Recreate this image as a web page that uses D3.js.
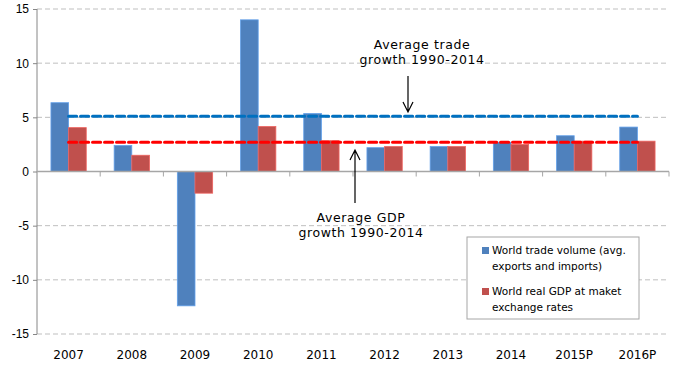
<!doctype html>
<meta charset=utf8>
<title>World trade and GDP growth</title>
<style>
  html, body { margin: 0; background: white; }
  svg { display: block; font-family: Tahoma, "DejaVu Sans", sans-serif; }
  .grid line { stroke: #bfbfbf; stroke-dasharray: 5,3; }
  .tick text { fill: #000; }
</style>
<svg width=674 height=370></svg>
<script src=https://d3js.org/d3.v7.min.js></script>
<script>
  var years = ['2007', '2008', '2009', '2010', '2011', '2012', '2013', '2014', '2015P', '2016P'];
  var tradeGrowth = [6.35, 2.4, -12.4, 14.0, 5.35, 2.2, 2.3, 2.7, 3.3, 4.1];
  var gdpGrowth = [4.05, 1.5, -2.0, 4.15, 2.85, 2.3, 2.3, 2.5, 2.8, 2.8];
  var avgTrade = 5.1;
  var avgGdp = 2.7;
  var yTicks = [-15, -10, -5, 0, 5, 10, 15];

  var svg = d3.select('svg');
  var plotLeft = 37, plotRight = 669, plotTop = 9, plotBottom = 334;

  var x = d3.scaleBand().domain(years).range([plotLeft, plotRight]);
  var xs = d3.scaleBand().domain(['trade', 'gdp']).range([0, x.bandwidth()]).paddingOuter(0.79);
  var y = d3.scaleLinear().domain([-15, 15]).range([plotBottom, plotTop]);

  // gridlines
  svg.append('g').attr('class', 'grid')
    .selectAll('line').data(yTicks.filter(function (d) { return d !== 0; }))
    .enter().append('line')
    .attr('x1', plotLeft).attr('x2', plotRight)
    .attr('y1', y).attr('y2', y);

  // y axis
  var yAxis = svg.append('g').attr('transform', 'translate(' + plotLeft + ',0)')
    .call(d3.axisLeft(y).tickValues(yTicks).tickFormat(String).tickSize(4).tickPadding(4));
  yAxis.select('.domain').attr('stroke', '#868686').attr('d', 'M0,' + plotTop + 'V' + plotBottom);
  yAxis.selectAll('.tick line').attr('stroke', '#868686');
  yAxis.selectAll('.tick text').style('font-size', '12px');

  // bars
  var groups = svg.append('g').selectAll('g').data(years).enter().append('g')
    .attr('transform', function (d) { return 'translate(' + x(d) + ',0)'; });

  function bars(key, values, color) {
    groups.append('rect')
      .attr('x', xs(key))
      .attr('width', xs.bandwidth())
      .attr('y', function (d, i) { return y(Math.max(0, values[i])); })
      .attr('height', function (d, i) { return Math.abs(y(values[i]) - y(0)); })
      .attr('fill', color)
      .attr('stroke', d3.color(color).brighter(0.6))
      .attr('stroke-width', 0.8);
  }
  bars('trade', tradeGrowth, '#4f81bd');
  bars('gdp', gdpGrowth, '#c0504d');

  // zero line and category ticks
  svg.append('line').attr('x1', plotLeft).attr('x2', plotRight)
    .attr('y1', y(0)).attr('y2', y(0)).attr('stroke', '#a6a6a6').attr('stroke-width', 1.3);
  svg.append('g').selectAll('line').data(years)
    .enter().append('line')
    .attr('x1', function (d) { return x(d) + x.step(); })
    .attr('x2', function (d) { return x(d) + x.step(); })
    .attr('y1', y(0)).attr('y2', y(0) + 5)
    .attr('stroke', '#a6a6a6');

  // x labels
  svg.append('g').selectAll('text').data(years).enter().append('text')
    .attr('x', function (d) { return x(d) + x.bandwidth() / 2; })
    .attr('y', 359)
    .attr('text-anchor', 'middle')
    .style('font-size', '12px')
    .text(function (d) { return d; });

  // average lines
  var x0 = x(years[0]) + x.bandwidth() / 2;
  var x1 = x(years[years.length - 1]) + x.bandwidth() / 2;
  [[avgTrade, '#0070c0'], [avgGdp, '#ff0000']].forEach(function (a) {
    svg.append('line')
      .attr('x1', x0).attr('x2', x1)
      .attr('y1', y(a[0])).attr('y2', y(a[0]))
      .attr('stroke', a[1]).attr('stroke-width', 3.2)
      .attr('stroke-dasharray', '8,4').attr('stroke-linecap', 'round');
  });

  // annotations
  function note(lines, cx, ty) {
    svg.append('text').attr('text-anchor', 'middle').style('font-size', '12.5px')
      .style('letter-spacing', '0.6px')
      .selectAll('tspan').data(lines).enter().append('tspan')
      .attr('x', cx).attr('y', function (d, i) { return ty + i * 15; })
      .text(function (d) { return d; });
  }
  function arrow(ax, y1, y2) {
    var dir = y2 > y1 ? -1 : 1;
    svg.append('path')
      .attr('d', 'M' + ax + ',' + y1 + 'V' + y2 + 'M' + (ax - 5) + ',' + (y2 + dir * 10) + 'L' + ax + ',' + y2 + 'L' + (ax + 5) + ',' + (y2 + dir * 10))
      .attr('fill', 'none').attr('stroke', '#000').attr('stroke-width', 1.2);
  }
  note(['Average trade', 'growth 1990-2014'], 422, 49);
  arrow(408, 76, 112);
  note(['Average GDP', 'growth 1990-2014'], 361, 222);
  arrow(355, 203, 150);

  // legend
  var lg = svg.append('g').attr('transform', 'translate(467,237)');
  lg.append('rect').attr('width', 172).attr('height', 82)
    .attr('fill', 'white').attr('stroke', '#a6a6a6');
  var items = [
    ['#4f81bd', ['World trade volume (avg.', 'exports and imports)']],
    ['#c0504d', ['World real GDP at maket', 'exchange rates']]
  ];
  items.forEach(function (it, i) {
    var g = lg.append('g').attr('transform', 'translate(0,' + (i * 41) + ')');
    g.append('rect').attr('x', 15).attr('y', 10).attr('width', 7).attr('height', 7).attr('fill', it[0]);
    g.append('text').style('font-size', '10.5px')
      .selectAll('tspan').data(it[1]).enter().append('tspan')
      .attr('x', 25).attr('y', function (d, j) { return 17 + j * 16; })
      .text(function (d) { return d; });
  });
</script>
